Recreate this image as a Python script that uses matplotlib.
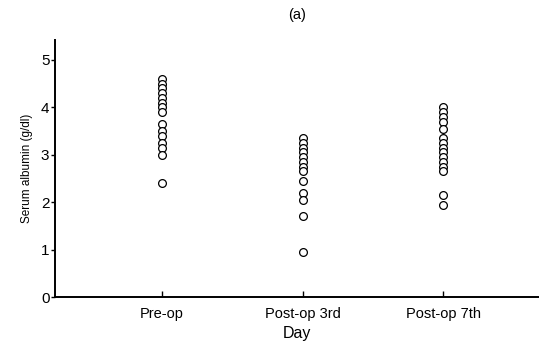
import numpy as np
import matplotlib.pyplot as plt

plt.rcParams['font.family'] = ['Liberation Sans', 'DejaVu Sans']

days = ['Pre-op', 'Post-op 3rd', 'Post-op 7th']
pre_op = [4.6, 4.5, 4.4, 4.3, 4.2, 4.1, 4.0, 3.9,
          3.65, 3.5, 3.4, 3.25, 3.15, 3.0, 2.4]
post_op_3 = [3.35, 3.25, 3.15, 3.05, 2.95, 2.85, 2.75, 2.65,
             2.45, 2.2, 2.05, 1.7, 0.95]
post_op_7 = [4.0, 3.9, 3.8, 3.7, 3.55, 3.35, 3.25, 3.15, 3.05,
             2.95, 2.85, 2.75, 2.65, 2.15, 1.95]
yticks = [0, 1, 2, 3, 4, 5]

fig = plt.figure(figsize=(5.39, 3.45), dpi=100)
ax = fig.add_axes([0.102, 0.139, 0.898, 0.745])

for i, vals in enumerate([pre_op, post_op_3, post_op_7]):
    x = np.full(len(vals), i + 1)
    ax.plot(x, vals, 'o', mfc='white', mec='black', ms=5.6, mew=0.9)

ax.set_xlim(0.24, 3.68)
ax.set_ylim(0, 5.42)
ax.set_xticks([1, 2, 3])
ax.set_xticklabels(days, fontsize=10.5)
ax.set_yticks(yticks)
ax.set_yticklabels([str(t) for t in yticks], fontsize=11)

for s in ['top', 'right']:
    ax.spines[s].set_visible(False)
for s in ['left', 'bottom']:
    ax.spines[s].set_linewidth(1.4)
ax.tick_params(axis='x', direction='in', length=4, width=1, pad=7)
ax.tick_params(axis='y', direction='out', length=3, width=1, pad=1)

ax.set_xlabel('Day', fontsize=11.5, labelpad=4)
ax.set_ylabel('Serum albumin (g/dl)', fontsize=8.5, labelpad=6)
ax.set_title('(a)', fontsize=10.5, pad=15)

fig.savefig('out.png', dpi=100)
